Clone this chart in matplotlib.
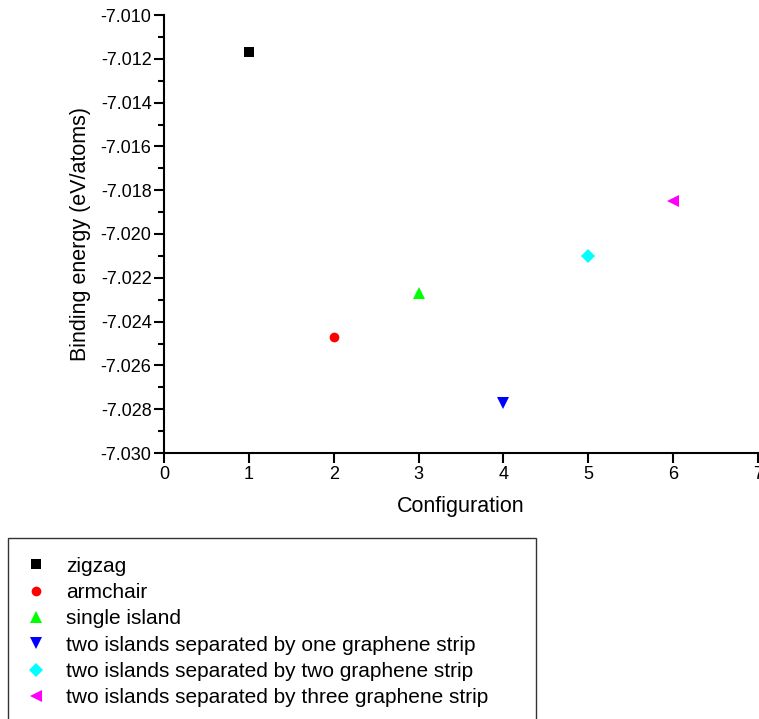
import matplotlib
matplotlib.use("Agg")
import matplotlib.pyplot as plt
from matplotlib.ticker import MultipleLocator, FormatStrFormatter

plt.rcParams['font.family'] = ['Liberation Sans', 'DejaVu Sans']

configs = [1, 2, 3, 4, 5, 6]
energies = [-7.0117, -7.0247, -7.0227, -7.0277, -7.0210, -7.0185]
labels = ["zigzag", "armchair", "single island",
          "two islands separated by one graphene strip",
          "two islands separated by two graphene strip",
          "two islands separated by three graphene strip"]
markers = ["s", "o", "^", "v", "D", "<"]
colors = ["#000000", "#ff0000", "#00ff00", "#0000ff", "#00ffff", "#ff00ff"]
sizes = [6.7, 7, 8, 8, 7, 8]

fig = plt.figure(figsize=(7.59, 7.19), dpi=100)
ax = fig.add_axes([164 / 759, 1 - 453 / 719, (758 - 164) / 759, (453 - 15) / 719])

handles = []
for x, y, lab, m, c, s in zip(configs, energies, labels, markers, colors, sizes):
    h, = ax.plot([x], [y], linestyle="none", marker=m, color=c,
                 markersize=s, markeredgewidth=0, label=lab, clip_on=False)
    handles.append(h)

ax.set_xlim(0, 7)
ax.set_ylim(-7.030, -7.010)
ax.xaxis.set_major_locator(MultipleLocator(1))
ax.yaxis.set_major_locator(MultipleLocator(0.002))
ax.yaxis.set_minor_locator(MultipleLocator(0.001))
ax.yaxis.set_major_formatter(FormatStrFormatter("%.3f"))
ax.spines["top"].set_visible(False)
ax.spines["right"].set_visible(False)
for sp in ("left", "bottom"):
    ax.spines[sp].set_linewidth(1.5)
ax.tick_params(which="major", direction="out", length=7, width=1.5, labelsize=13, pad=2)
ax.tick_params(which="minor", direction="out", length=4, width=1.5)
ax.set_xlabel("Configuration", fontsize=15.5, labelpad=10)
ax.set_ylabel("Binding energy (eV/atoms)", fontsize=15.5, labelpad=7)

top = 1 - 538 / 719
leg = fig.legend(handles=handles, loc="upper left",
                 bbox_to_anchor=(8 / 759, top - 0.001, (536 - 8) / 759, 0.001),
                 mode="expand", fontsize=15, frameon=True, fancybox=False,
                 edgecolor="black", handlelength=0.9, handletextpad=1.0,
                 borderpad=0.9, labelspacing=0.35, borderaxespad=0)
leg.get_frame().set_linewidth(1.0)

fig.savefig("out.png", dpi=100)
